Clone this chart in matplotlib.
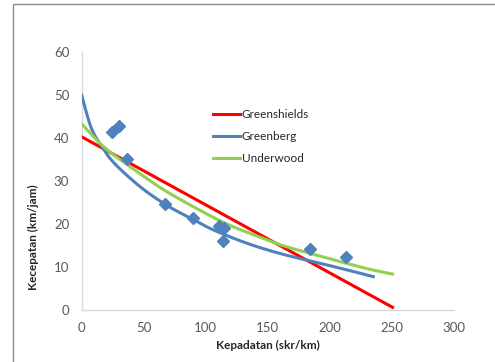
import matplotlib
matplotlib.use("Agg")
import matplotlib.pyplot as plt
from matplotlib.patches import Rectangle
import numpy as np

# Observed data (density k, speed v)
obs_k = [24.2, 30.1, 36.8, 66.9, 90.0, 110.6, 114.9, 113.6, 183.7, 212.7]
obs_v = [41.4, 42.8, 35.1, 24.6, 21.3, 19.4, 19.1, 16.1, 14.1, 12.2]

# Greenshields model line
gs_k = [0, 250.5]
gs_v = [40.3, 0.55]

# Greenberg model curve
gb_k = [0, 7.8, 17.2, 23.9, 34.6, 50, 67, 79.2, 90, 106.1, 133, 159.8, 186.7, 213.5, 235]
gb_v = [50.0, 42.3, 37.6, 34.9, 31.8, 28.0, 24.6, 22.6, 21.0, 18.6, 15.5, 13.1, 11.2, 9.3, 7.7]

# Underwood model curve
uw_k = [0, 13.2, 23.9, 37.3, 63.1, 90, 116.8, 143.7, 162.5, 189.4, 216.2, 232.3, 250.5]
uw_v = [43.3, 39.2, 36.5, 33.7, 28.5, 24.0, 20.0, 16.9, 14.9, 12.7, 10.6, 9.4, 8.3]

x_ticks = [0, 50, 100, 150, 200, 250, 300]
y_ticks = [0, 10, 20, 30, 40, 50, 60]


def smooth(xs, ys, n=20):
    """Catmull-Rom smoothing through the given points (like a smoothed line)."""
    p = np.column_stack([xs, ys]).astype(float)
    p = np.vstack([p[0], p, p[-1]])
    out = []
    t = np.linspace(0, 1, n, endpoint=False)[:, None]
    for i in range(1, len(p) - 2):
        p0, p1, p2, p3 = p[i - 1], p[i], p[i + 1], p[i + 2]
        seg = 0.5 * ((2 * p1) + (-p0 + p2) * t + (2 * p0 - 5 * p1 + 4 * p2 - p3) * t ** 2
                     + (-p0 + 3 * p1 - 3 * p2 + p3) * t ** 3)
        out.append(seg)
    out.append(p[-2][None, :])
    arr = np.vstack(out)
    return arr[:, 0], arr[:, 1]


plt.rcParams['font.family'] = ['Lato', 'DejaVu Sans']

W, H = 495, 362
fig = plt.figure(figsize=(W / 100, H / 100), dpi=100)
fig.patch.set_facecolor('white')

# chart-area border
fig.patches.append(Rectangle((13.3 / W, 1 - 4.3 / H), 1.0, -1.1,
                             transform=fig.transFigure, fill=False,
                             edgecolor='#8c8c8c', linewidth=1.0))

ax = fig.add_axes([81.7 / W, 1 - 309.7 / H, (454 - 81.7) / W, (309.7 - 52.3) / H])
ax.set_xlim(0, 300)
ax.set_ylim(0, 60)
ax.set_xticks(x_ticks)
ax.set_yticks(y_ticks)
ax.tick_params(length=0, labelsize=9.5, colors='#595959', pad=9)
for s in ['top', 'right']:
    ax.spines[s].set_visible(False)
for s in ['left', 'bottom']:
    ax.spines[s].set_color('#d9d9d9')
    ax.spines[s].set_linewidth(1.0)

ax.plot(obs_k, obs_v, linestyle='none', marker='D', ms=6, color='#4f81bd', zorder=4)
l1, = ax.plot(gs_k, gs_v, color='#ff0000', lw=2.2, label='Greenshields', zorder=3)
gx, gy = smooth(gb_k, gb_v)
l2, = ax.plot(gx, gy, color='#4f81bd', lw=2.2, label='Greenberg', zorder=3)
ux, uy = smooth(uw_k, uw_v)
l3, = ax.plot(ux, uy, color='#92d050', lw=2.2, label='Underwood', zorder=3)

leg = ax.legend(handles=[l1, l2, l3], loc='upper left',
                bbox_to_anchor=((208 - 81.7) / (454 - 81.7), (309.7 - 104) / (309.7 - 52.3)),
                frameon=False, fontsize=8.5, handlelength=2.3, handletextpad=0.15,
                labelspacing=0.95, borderaxespad=0)
for t in leg.get_texts():
    t.set_color('#262626')

fig.text(33 / W, 1 - 237 / H, 'Kecepatan (km/jam)', rotation=90, ha='center', va='center',
         fontsize=8.5, fontweight='bold', color='#262626')
fig.text(267.5 / W, 1 - 345 / H, 'Kepadatan (skr/km)', ha='center', va='center',
         fontsize=8.5, fontweight='bold', color='#262626')

fig.savefig('out.png', dpi=100)
